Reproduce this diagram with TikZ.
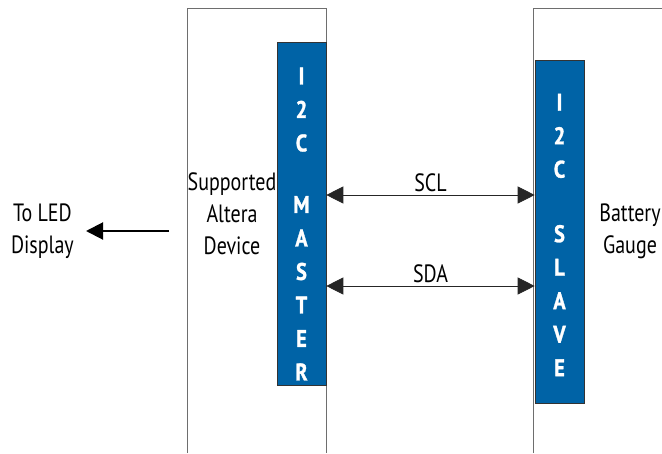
\documentclass[tikz,border=0pt]{standalone}
\usepackage{fontspec}
\setmainfont{PT Sans}[FakeStretch=0.8, BoldFont={PT Sans Bold}]
\newfontfamily\barfont{PT Sans Bold}[FakeStretch=0.85, FakeBold=1.2]
\usetikzlibrary{arrows.meta,positioning,calc}
\definecolor{barblue}{HTML}{0063A6}
\definecolor{edgegray}{HTML}{6E6E6E}
\tikzset{
  devline/.style={draw=edgegray, line width=0.9pt},
  bar/.style={draw=black!80, fill=barblue, line width=0.6pt, minimum width=49pt, inner sep=0pt},
  barlabel/.style={text=white, font=\barfont\fontsize{24}{33.5}\selectfont, align=center},
  lbl/.style={font=\fontsize{25}{32}\selectfont, align=center},
  bus/.style={{Triangle[length=17pt,width=17pt]}-{Triangle[length=17pt,width=17pt]}, line width=0.8pt, draw=black!85}
}
\begin{document}
\begin{tikzpicture}[x=1pt,y=-1pt]
  \useasboundingbox (0,0) rectangle (662,453);
  % device outlines, open at the bottom
  \draw[devline] (187,453) -- (187,8) -- (326,8) -- (326,453);
  \draw[devline] (533,453) -- (533,8) -- (662,8);
  % i2c blocks
  \node[bar, minimum height=343pt] (master) at (301.5,213.5) {};
  \node[bar, minimum height=343pt] (slave) at (559.5,231.5) {};
  \node[barlabel] at (301.5,224) {I\\2\\C\\[28pt]M\\A\\S\\T\\E\\R};
  \node[barlabel] at (559.5,235) {I\\2\\C\\[31pt]S\\L\\A\\V\\E};
  % texts
  \node[lbl] (device) at (232,214) {Supported\\Altera\\Device};
  \node[lbl] (gauge) at (630,231) {Battery\\Gauge};
  \node[lbl, anchor=east, inner xsep=12pt] (led) at (86,231) {To LED\\Display};
  % buses
  \coordinate (scl) at (0,195);
  \coordinate (sda) at (0,286);
  \draw[bus] (master.east |- scl) -- node[lbl, above=-1pt] {SCL} (slave.west |- scl);
  \draw[bus] (master.east |- sda) -- node[lbl, above=-1pt] {SDA} (slave.west |- sda);
  % output
  \coordinate (ledsrc) at (169,231);
  \draw[-{Triangle[length=17pt,width=17pt]}, line width=2pt] (ledsrc) -- (led.east);
\end{tikzpicture}
\end{document}
